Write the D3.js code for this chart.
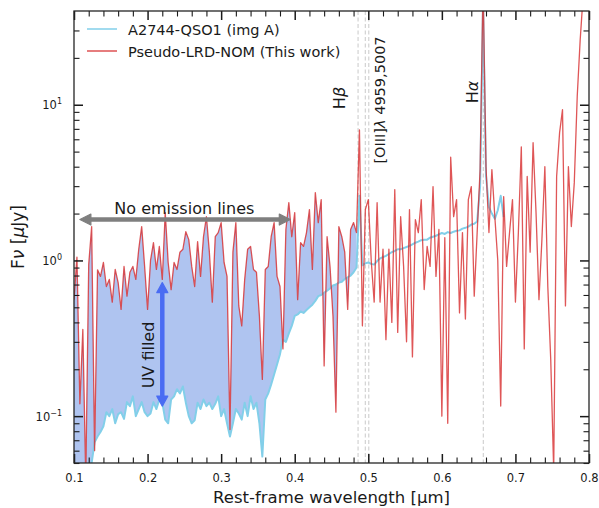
<!DOCTYPE html>
<html>
<head>
<meta charset="utf-8">
<script src="https://cdn.jsdelivr.net/npm/d3@7"></script>
<style>
  html, body { margin: 0; padding: 0; background: #fff; }
  svg { display: block; font-family: "DejaVu Sans", sans-serif; }
</style>
</head>
<body>
<svg id="chart" width="599" height="508"></svg>
<script>
// Rest-frame wavelength grid (µm), 0.004 µm sampling from 0.1 to 0.8
const wavelength = d3.range(0, 176).map(i => +(0.1 + 0.004 * i).toFixed(3));

// Pseudo-LRD-NOM model spectrum, Fν in µJy
const pseudoFlux = [
  0.56, 1.05, 0.12, 0.36, 0.04, 0.94, 1.65, 0.06, 0.87, 0.79,
  0.97, 0.68, 0.755, 0.54, 0.875, 0.72, 0.485, 0.915, 0.59, 0.84,
  0.915, 0.755, 1.18, 1.65, 0.915, 0.485, 1.0, 1.3, 0.875, 1.23,
  0.755, 2.03, 0.97, 0.65, 0.97, 0.875, 1.13, 1.18, 1.53, 1.36,
  0.915, 0.68, 1.32, 0.79, 1.42, 1.91, 1.13, 0.54, 1.42, 1.51,
  1.75, 0.97, 0.79, 0.082, 1.13, 1.75, 0.51, 0.38, 0.755, 1.18,
  1.23, 0.875, 0.84, 0.44, 0.172, 0.875, 0.915, 1.42, 1.75, 0.79,
  0.68, 0.27, 1.58, 2.35, 1.42, 2.03, 0.56, 1.3, 1.23, 1.51,
  2.12, 0.875, 2.73, 1.75, 2.46, 0.21, 1.42, 0.915, 0.44, 0.106,
  1.65, 1.42, 1.13, 0.485, 1.58, 1.75, 1.51, 6.9, 0.38, 2.12,
  2.46, 1.0, 0.54, 2.35, 0.54, 1.18, 0.31, 1.18, 0.40, 2.85,
  0.345, 1.91, 0.915, 0.30, 2.12, 0.24, 1.83, 1.51, 2.46, 0.65,
  1.23, 0.915, 2.98, 0.79, 1.58, 0.10, 1.4, 0.09, 4.6, 1.91,
  2.46, 0.46, 1.51, 0.42, 2.46, 2.98, 0.59, 1.51, 3.83, 60,
  4.0, 1.51, 3.83, 1.91, 1.0, 0.116, 2.57, 0.915, 1.51, 2.46,
  0.54, 1.51, 5.37, 0.27, 3.46, 1.13, 5.7, 2.03, 0.56, 1.36,
  4.0, 0.68, 0.23, 0.045, 3.46, 6.6, 9.3, 0.51, 4.0, 1.65,
  3.16, 11.3, 26, 50, 45, 60
];

// A2744-QSO1 (img A) observed spectrum, Fν in µJy (covers 0.100–0.684 µm)
const qsoFlux = [
  0.02, 0.02, 0.02, 0.02, 0.02, 0.03, 0.05, 0.068, 0.074, 0.079,
  0.086, 0.106, 0.1, 0.111, 0.09, 0.103, 0.106, 0.096, 0.123, 0.116,
  0.134, 0.1, 0.111, 0.123, 0.106, 0.1, 0.104, 0.123, 0.111, 0.128,
  0.122, 0.095, 0.09, 0.128, 0.134, 0.149, 0.14, 0.155, 0.122, 0.1,
  0.09, 0.094, 0.122, 0.111, 0.128, 0.116, 0.122, 0.111, 0.12, 0.134,
  0.1, 0.111, 0.09, 0.074, 0.09, 0.111, 0.104, 0.095, 0.122, 0.1,
  0.134, 0.111, 0.122, 0.09, 0.055, 0.128, 0.14, 0.16, 0.185, 0.215,
  0.25, 0.31, 0.3, 0.34, 0.38, 0.44, 0.45, 0.47, 0.46, 0.48,
  0.5, 0.52, 0.55, 0.59, 0.6, 0.62, 0.64, 0.66, 0.69, 0.7,
  0.72, 0.73, 0.76, 0.78, 0.8, 0.84, 0.9, 2.6, 0.93, 0.96,
  0.97, 0.95, 0.94, 0.99, 1.03, 1.05, 1.07, 1.1, 1.13, 1.15,
  1.18, 1.18, 1.2, 1.22, 1.24, 1.27, 1.3, 1.32, 1.35, 1.36,
  1.36, 1.4, 1.42, 1.44, 1.47, 1.5, 1.48, 1.52, 1.5, 1.53,
  1.55, 1.56, 1.6, 1.62, 1.65, 1.7, 1.72, 1.78, 3.0, 45,
  3.5, 2.2, 2.0, 1.85, 2.1, 2.6, 1.9
];

// Upper wavelength of the shaded UV excess region (µm)
const uvFillEnd = 0.485;

// Axis ticks
const xMajorTicks = [0.1, 0.2, 0.3, 0.4, 0.5, 0.6, 0.7, 0.8];
const xTickLabels = ["0.1", "0.2", "0.3", "0.4", "0.5", "0.6", "0.7", "0.8"];
const xMinorTicks = d3.range(0, 36).map(i => +(0.1 + 0.02 * i).toFixed(2))
  .filter(v => !xMajorTicks.includes(v));
const yMajorTicks = [0.1, 1, 10];
const yTickExponents = ["\u22121", "0", "1"];
const yMinorTicks = [0.05, 0.06, 0.07, 0.08, 0.09, 0.2, 0.3, 0.4, 0.5, 0.6, 0.7, 0.8, 0.9,
                     2, 3, 4, 5, 6, 7, 8, 9, 20, 30];

// Emission lines marked with dashed guides (µm)
const lineWavelengths = [0.4861, 0.4959, 0.5007, 0.6563];

const seriesNames = ["A2744-QSO1 (img A)", "Pseudo-LRD-NOM (This work)"];

// ---------------------------------------------------------------------------
const svg = d3.select("#chart");
const box = { left: 74, right: 589, top: 11, bottom: 463 };

const x = d3.scaleLinear().domain([0.1, 0.8]).range([box.left, box.right]);
const y = d3.scaleLog().domain([0.05, 40]).range([box.bottom, box.top]);

const colors = {
  qso: "#82cfe9",
  model: "#d62728",
  fill: "#afc4f0",
  guide: "#c9c9c9",
  arrowGray: "#7f7f7f",
  arrowBlue: "#4a6cf3",
  ink: "#1a1a1a"
};

svg.append("defs").append("clipPath").attr("id", "plotClip")
  .append("rect")
  .attr("x", box.left).attr("y", box.top)
  .attr("width", box.right - box.left).attr("height", box.bottom - box.top);

const plot = svg.append("g").attr("clip-path", "url(#plotClip)");

// dashed emission-line guides
plot.selectAll("line.guide").data(lineWavelengths).join("line")
  .attr("class", "guide")
  .attr("x1", d => x(d)).attr("x2", d => x(d))
  .attr("y1", box.top).attr("y2", box.bottom)
  .attr("stroke", colors.guide).attr("stroke-width", 1)
  .attr("stroke-dasharray", "4,2.5");

// paired samples
const qsoPts = qsoFlux.map((f, i) => ({ w: wavelength[i], f }));
const modelPts = pseudoFlux.map((f, i) => ({ w: wavelength[i], f }));
const fillPts = qsoFlux.map((f, i) => ({ w: wavelength[i], lo: f, hi: pseudoFlux[i] }))
  .filter(d => d.w <= uvFillEnd);

// shaded UV excess between the observed spectrum and the model
plot.append("path")
  .datum(fillPts)
  .attr("fill", colors.fill)
  .attr("d", d3.area().x(d => x(d.w)).y0(d => y(d.lo)).y1(d => y(d.hi)));

// observed spectrum
plot.append("path")
  .datum(qsoPts)
  .attr("fill", "none")
  .attr("stroke", colors.qso)
  .attr("stroke-width", 2)
  .attr("stroke-linejoin", "round")
  .attr("d", d3.line().x(d => x(d.w)).y(d => y(d.f)));

// model spectrum
plot.append("path")
  .datum(modelPts)
  .attr("fill", "none")
  .attr("stroke", colors.model)
  .attr("stroke-opacity", 0.78)
  .attr("stroke-width", 1.3)
  .attr("stroke-linejoin", "round")
  .attr("d", d3.line().x(d => x(d.w)).y(d => y(d.f)));

// ---------------------------------------------------------------------------
// axes: inward ticks on all four sides
const majorLen = 9, minorLen = 5.5;
function styleAxis(g, width) {
  g.select(".domain").remove();
  g.selectAll(".tick line").attr("stroke", colors.ink).attr("stroke-width", width);
}

svg.append("g").attr("transform", `translate(0,${box.bottom})`)
  .call(d3.axisBottom(x).tickValues(xMajorTicks).tickSize(-majorLen).tickPadding(11)
    .tickFormat((d, i) => xTickLabels[i]))
  .call(g => styleAxis(g, 1.5))
  .call(g => g.selectAll("text").attr("fill", colors.ink).attr("font-size", 11.5)
    .attr("font-family", "DejaVu Sans"));
svg.append("g").attr("transform", `translate(0,${box.bottom})`)
  .call(d3.axisBottom(x).tickValues(xMinorTicks).tickSize(-minorLen).tickFormat(""))
  .call(g => styleAxis(g, 1.1));
svg.append("g").attr("transform", `translate(0,${box.top})`)
  .call(d3.axisTop(x).tickValues(xMajorTicks).tickSize(-majorLen).tickFormat(""))
  .call(g => styleAxis(g, 1.5));
svg.append("g").attr("transform", `translate(0,${box.top})`)
  .call(d3.axisTop(x).tickValues(xMinorTicks).tickSize(-minorLen).tickFormat(""))
  .call(g => styleAxis(g, 1.1));

svg.append("g").attr("transform", `translate(${box.left},0)`)
  .call(d3.axisLeft(y).tickValues(yMajorTicks).tickSize(-majorLen).tickFormat(""))
  .call(g => styleAxis(g, 1.5));
svg.append("g").attr("transform", `translate(${box.left},0)`)
  .call(d3.axisLeft(y).tickValues(yMinorTicks).tickSize(-minorLen).tickFormat(""))
  .call(g => styleAxis(g, 1.1));
svg.append("g").attr("transform", `translate(${box.right},0)`)
  .call(d3.axisRight(y).tickValues(yMajorTicks).tickSize(-majorLen).tickFormat(""))
  .call(g => styleAxis(g, 1.5));
svg.append("g").attr("transform", `translate(${box.right},0)`)
  .call(d3.axisRight(y).tickValues(yMinorTicks).tickSize(-minorLen).tickFormat(""))
  .call(g => styleAxis(g, 1.1));

// log-axis labels written as powers of ten
yMajorTicks.forEach((v, i) => {
  const t = svg.append("text")
    .attr("x", box.left - 12).attr("y", y(v) + 4.5)
    .attr("text-anchor", "end").attr("fill", colors.ink).attr("font-size", 11.5);
  t.append("tspan").text("10");
  t.append("tspan").attr("font-size", 8).attr("dy", -5).text(yTickExponents[i]);
});

// frame
svg.append("rect")
  .attr("x", box.left).attr("y", box.top)
  .attr("width", box.right - box.left).attr("height", box.bottom - box.top)
  .attr("fill", "none").attr("stroke", "#262626").attr("stroke-width", 1.3);

// axis titles
svg.append("text")
  .attr("x", (box.left + box.right) / 2).attr("y", 503)
  .attr("text-anchor", "middle").attr("font-size", 16.5).attr("fill", colors.ink)
  .text("Rest-frame wavelength [\u03bcm]");

const yTitle = svg.append("text")
  .attr("transform", `translate(24,${(box.top + box.bottom) / 2}) rotate(-90)`)
  .attr("text-anchor", "middle").attr("font-size", 17).attr("fill", colors.ink);
yTitle.append("tspan").text("F");
yTitle.append("tspan").attr("font-style", "italic").text("\u03bd");
yTitle.append("tspan").text(" [");
yTitle.append("tspan").attr("font-style", "italic").text("\u03bc");
yTitle.append("tspan").text("Jy]");

// emission-line labels
function vlabel(px, py, size, parts) {
  const t = svg.append("text")
    .attr("transform", `translate(${px},${py}) rotate(-90)`)
    .attr("text-anchor", "middle").attr("font-size", size).attr("fill", colors.ink);
  parts.forEach(([s, it]) => t.append("tspan").attr("font-style", it ? "italic" : "normal").text(s));
}
vlabel(x(0.4861) - 13, 98, 16, [["H", false], ["\u03b2", true]]);
vlabel(x(0.5007) + 16.5, 100, 14.5, [["[OIII]", false], ["\u03bb", true], [" 4959,5007", false]]);
vlabel(x(0.6563) - 5.5, 92, 16, [["H", false], ["\u03b1", true]]);

// ---------------------------------------------------------------------------
// annotation arrows
function doubleArrow(x1, y1, x2, y2, color, shaft, headLen, headHalf) {
  const dx = x2 - x1, dy = y2 - y1, L = Math.hypot(dx, dy);
  const ux = dx / L, uy = dy / L, nx = -uy, ny = ux;
  const g = svg.append("g");
  g.append("line")
    .attr("x1", x1 + ux * headLen * 0.8).attr("y1", y1 + uy * headLen * 0.8)
    .attr("x2", x2 - ux * headLen * 0.8).attr("y2", y2 - uy * headLen * 0.8)
    .attr("stroke", color).attr("stroke-width", shaft);
  const head = (tx, ty, sx, sy) => {
    const bx = tx - sx * headLen, by = ty - sy * headLen;
    return `M${tx},${ty}L${bx + nx * headHalf},${by + ny * headHalf}L${bx - nx * headHalf},${by - ny * headHalf}Z`;
  };
  g.append("path").attr("d", head(x2, y2, ux, uy)).attr("fill", color)
    .attr("stroke", color).attr("stroke-width", 1.2).attr("stroke-linejoin", "round");
  g.append("path").attr("d", head(x1, y1, -ux, -uy)).attr("fill", color)
    .attr("stroke", color).attr("stroke-width", 1.2).attr("stroke-linejoin", "round");
}

// continuum region free of emission lines
const noLineY = y(1.83);
doubleArrow(x(0.108), noLineY, x(0.394), noLineY, colors.arrowGray, 4.5, 11, 5.5);
svg.append("text")
  .attr("x", x(0.25)).attr("y", noLineY - 6)
  .attr("text-anchor", "middle").attr("font-size", 16).attr("fill", colors.ink)
  .text("No emission lines");

// UV excess filled by the model
doubleArrow(x(0.22), y(0.72), x(0.22), y(0.116), colors.arrowBlue, 4.5, 10, 5.5);
svg.append("text")
  .attr("transform", `translate(${x(0.22) - 8},${355}) rotate(-90)`)
  .attr("text-anchor", "middle").attr("font-size", 16).attr("fill", colors.ink)
  .text("UV filled");

// ---------------------------------------------------------------------------
// legend
const legend = svg.append("g");
[[colors.qso, 0.75, 2], [colors.model, 0.6, 2]].forEach(([c, op, w], i) => {
  const ly = 29 + i * 22;
  legend.append("line")
    .attr("x1", 87).attr("x2", 117).attr("y1", ly).attr("y2", ly)
    .attr("stroke", c).attr("stroke-opacity", op).attr("stroke-width", w);
  legend.append("text")
    .attr("x", 128).attr("y", ly + 6)
    .attr("font-size", 14.5).attr("fill", colors.ink)
    .text(seriesNames[i]);
});
</script>
</body>
</html>
